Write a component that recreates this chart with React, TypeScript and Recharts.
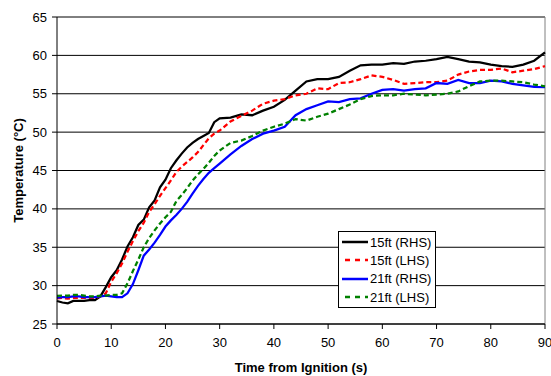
import { LineChart, Line, XAxis, YAxis, CartesianGrid, ReferenceLine } from 'recharts';

const time = [
  0, 1, 2, 3, 4, 5, 6, 7, 8, 9, 10, 11, 12, 13, 14, 15, 16, 17, 18, 19, 20, 21, 22, 23, 24, 25, 26, 27, 28, 29, 30,
  32, 34, 36, 38, 40, 42, 44, 46, 48, 50, 52, 54, 56, 58, 60, 62, 64, 66, 68, 70, 72, 74, 76, 78, 80, 82, 84, 86, 88, 90,
];

const rhs15 = [
  28.0, 27.8, 27.7, 28.0, 28.0, 28.0, 28.1, 28.1, 28.6, 29.8, 31.1, 32.0, 33.4, 35.1, 36.3, 37.9, 38.6, 40.2, 41.1, 42.8, 43.8, 45.3, 46.3, 47.2, 48.0, 48.6, 49.1, 49.5, 49.9, 51.3, 51.8,
  51.9, 52.3, 52.2, 52.8, 53.3, 54.2, 55.4, 56.6, 56.9, 56.9, 57.2, 58.0, 58.7, 58.8, 58.8, 59.0, 58.9, 59.2, 59.3, 59.5, 59.8, 59.5, 59.2, 59.1, 58.8, 58.6, 58.5, 58.8, 59.3, 60.4,
];

const lhs15 = [
  28.35, 28.4, 28.3, 28.4, 28.4, 28.4, 28.4, 28.4, 28.6, 29.0, 30.5, 31.6, 32.9, 34.4, 35.8, 37.1, 38.2, 39.6, 40.6, 41.7, 42.7, 43.7, 44.8, 45.5, 46.1, 46.7, 47.4, 48.3, 49.2, 49.8, 50.2,
  51.4, 52.1, 52.8, 53.7, 54.1, 54.3, 54.8, 55.0, 55.7, 55.6, 56.4, 56.5, 56.9, 57.4, 57.2, 56.8, 56.3, 56.4, 56.5, 56.5, 56.7, 57.5, 57.9, 58.1, 58.1, 58.3, 57.8, 58.0, 58.2, 58.6,
];

const rhs21 = [
  28.45, 28.5, 28.5, 28.6, 28.6, 28.5, 28.5, 28.5, 28.6, 28.7, 28.6, 28.5, 28.5, 29.0, 30.2, 32.0, 33.9, 34.7, 35.6, 36.6, 37.7, 38.5, 39.2, 40.0, 40.9, 42.0, 43.0, 43.9, 44.7, 45.3, 45.9,
  47.1, 48.2, 49.1, 49.8, 50.2, 50.7, 52.2, 53.0, 53.5, 54.0, 53.9, 54.3, 54.4, 55.0, 55.5, 55.6, 55.4, 55.6, 55.7, 56.4, 56.3, 56.8, 56.4, 56.4, 56.7, 56.6, 56.3, 56.1, 55.9, 55.85,
];

const lhs21 = [
  28.65, 28.7, 28.7, 28.8, 28.8, 28.7, 28.6, 28.6, 28.7, 28.7, 28.8, 28.8, 29.0, 30.3, 31.9, 33.4, 35.0, 36.2, 37.2, 38.1, 38.9, 39.6, 41.0, 41.8, 42.7, 43.7, 44.5, 45.2, 46.0, 46.9, 47.6,
  48.6, 48.9, 49.5, 50.2, 50.7, 51.1, 51.7, 51.5, 52.0, 52.4, 53.0, 53.6, 54.3, 54.7, 54.8, 54.8, 55.0, 54.9, 54.8, 54.9, 55.0, 55.3, 56.0, 56.6, 56.7, 56.7, 56.6, 56.5, 56.2, 55.95,
];

const xTicks = [0, 10, 20, 30, 40, 50, 60, 70, 80, 90];
const yTicks = [25, 30, 35, 40, 45, 50, 55, 60, 65];

const series = [
  { key: 'rhs15', name: '15ft (RHS)', color: '#000000', dash: undefined },
  { key: 'lhs15', name: '15ft (LHS)', color: '#FF0000', dash: '5 3' },
  { key: 'rhs21', name: '21ft (RHS)', color: '#0000FF', dash: undefined },
  { key: 'lhs21', name: '21ft (LHS)', color: '#008000', dash: '5 3' },
];

const data = time.map((t, i) => ({
  t,
  rhs15: rhs15[i],
  lhs15: lhs15[i],
  rhs21: rhs21[i],
  lhs21: lhs21[i],
}));

const font = 'Arial, "Liberation Sans", sans-serif';

function LegendBox() {
  return (
    <div
      style={{
        position: 'absolute',
        left: 338,
        top: 231,
        border: '1px solid #000',
        background: '#fff',
        width: 96,
        padding: '1px 0',
        fontFamily: font,
        fontSize: 13,
        color: '#000',
        boxSizing: 'content-box',
        whiteSpace: 'nowrap',
      }}
    >
      {series.map((s) => (
        <div key={s.key} style={{ display: 'flex', alignItems: 'center', height: 18.3 }}>
          <svg width={28} height={6} style={{ marginLeft: 3, flexShrink: 0 }}>
            <line
              x1={0}
              y1={3}
              x2={26}
              y2={3}
              stroke={s.color}
              strokeWidth={2.5}
              strokeDasharray={s.dash ? '5 5' : undefined}
              strokeDashoffset={s.dash ? -3 : undefined}
            />
          </svg>
          <span>{s.name}</span>
        </div>
      ))}
    </div>
  );
}

export default function App() {
  return (
    <div style={{ position: 'absolute', left: 0, top: 0, width: 551, height: 376, background: '#fff' }}>
      <LineChart
        width={551}
        height={376}
        data={data}
        margin={{ top: 17, right: 6, bottom: 0, left: 0 }}
      >
        <CartesianGrid vertical={false} stroke="#000" strokeWidth={1} />
        <ReferenceLine y={65} stroke="#808080" strokeWidth={1} />
        <ReferenceLine x={90} stroke="#808080" strokeWidth={1} />
        <XAxis
          dataKey="t"
          type="number"
          domain={[0, 90]}
          ticks={xTicks}
          interval={0}
          height={52}
          stroke="#000"
          tickSize={5}
          tickMargin={9}
          tick={{ fill: '#000', fontSize: 13, fontFamily: font }}
          label={{
            value: 'Time from Ignition (s)',
            position: 'insideBottom',
            offset: 4,
            style: { fill: '#000', fontSize: 13, fontWeight: 'bold', fontFamily: font },
          }}
        />
        <YAxis
          type="number"
          domain={[25, 65]}
          ticks={yTicks}
          interval={0}
          width={57}
          stroke="#000"
          tickSize={5}
          tickMargin={5}
          tick={{ fill: '#000', fontSize: 13, fontFamily: font }}
          label={{
            value: 'Temperature (°C)',
            angle: -90,
            position: 'insideLeft',
            offset: 18,
            style: { fill: '#000', fontSize: 13, fontWeight: 'bold', fontFamily: font, textAnchor: 'middle' },
          }}
        />
        {series.map((s) => (
          <Line
            key={s.key}
            type="linear"
            dataKey={s.key}
            name={s.name}
            stroke={s.color}
            strokeWidth={2.25}
            strokeDasharray={s.dash}
            dot={false}
            activeDot={false}
            isAnimationActive={false}
          />
        ))}
      </LineChart>
      <LegendBox />
    </div>
  );
}
